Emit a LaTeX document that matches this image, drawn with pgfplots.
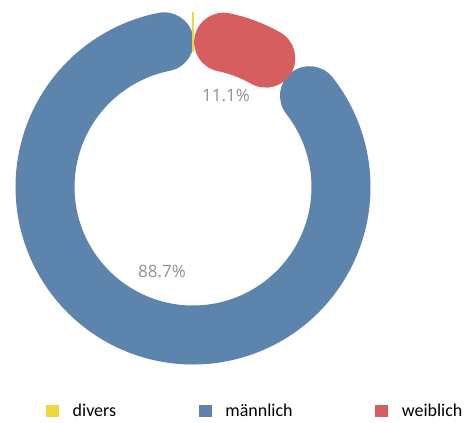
\documentclass[border=0pt]{standalone}
\usepackage{pgfplots}
\pgfplotsset{compat=1.18}
\usepackage{fontspec}
\setmainfont{Carlito}
\newfontfamily\lblfont{Open Sans}
\definecolor{cdiv}{RGB}{240,214,60}
\definecolor{cman}{RGB}{93,132,172}
\definecolor{cwei}{RGB}{214,94,94}
\definecolor{clbl}{RGB}{145,145,145}
\pgfplotsset{sqlegend/.style={legend image code/.code={\fill[##1, draw=none] (0bp,-6.2bp) rectangle (13bp,6.2bp);}}}
% shares in percent
\def\pdiv{0.2}
\def\pwei{11.1}
\def\pman{88.7}
\begin{document}
\begin{tikzpicture}
\pgfmathsetmacro{\capang}{deg(29/148)}
\pgfmathsetmacro{\aA}{3.6*\pdiv}
\pgfmathsetmacro{\aB}{\aA+3.6*\pwei}
\pgfmathsetmacro{\aC}{\aB+3.6*\pman}
\pgfmathsetmacro{\ws}{\aA+\capang}
\pgfmathsetmacro{\we}{\aB-\capang}
\pgfmathsetmacro{\ms}{\aB+\capang}
\pgfmathsetmacro{\me}{\aC-\capang}
\begin{axis}[x=1bp,y=1bp,xmin=0,xmax=471,ymin=0,ymax=422,hide axis,clip=false,
  legend columns=3, legend cell align=left,
  legend style={at={(axis cs:46,11)}, anchor=west, draw=none, fill=none, inner sep=0pt, outer sep=0pt,
    font=\fontsize{18bp}{21bp}\selectfont, nodes={inner sep=0pt},
    /tikz/every odd column/.append style={column sep=13.7bp},
    /tikz/every even column/.append style={column sep=82.5bp}}]
\addplot[draw=none, forget plot] coordinates {(0,0) (471,422)};
\addlegendimage{sqlegend, fill=cdiv}
\addlegendentry{divers}
\addlegendimage{sqlegend, fill=cman}
\addlegendentry{männlich}
\addlegendimage{sqlegend, fill=cwei}
\addlegendentry{weiblich}
\addplot[forget plot, cman, line width=59bp, line cap=round, domain=\ms:\me, samples=240, variable=\t]
  ({193+148*sin(\t)},{235+148*cos(\t)});
\addplot[forget plot, cwei, line width=59bp, line cap=round, domain=\ws:\we, samples=60, variable=\t]
  ({193+148*sin(\t)},{235+148*cos(\t)});
\addplot[forget plot, draw=cdiv, line width=1.5bp, mark=none] coordinates {(193.2,370) (193.2,410)};
\node[font=\lblfont\fontsize{17bp}{20bp}\selectfont, text=clbl] at (axis cs:226,327) {11.1\%};
\node[font=\lblfont\fontsize{17bp}{20bp}\selectfont, text=clbl] at (axis cs:162,151) {88.7\%};
\end{axis}
\end{tikzpicture}
\end{document}
